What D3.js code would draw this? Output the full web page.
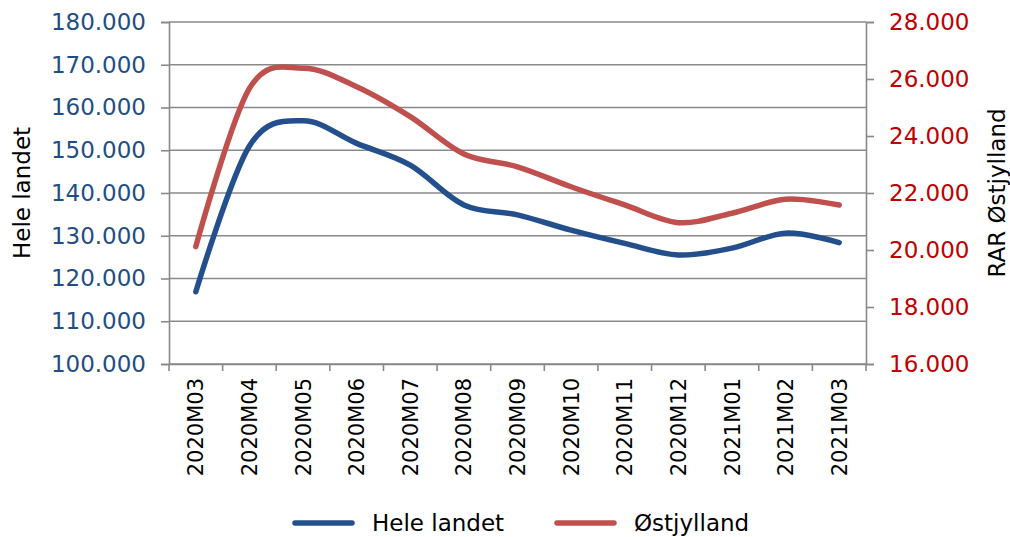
<!DOCTYPE html>
<html>
<head>
<meta charset="utf-8">
<script src="https://cdn.jsdelivr.net/npm/d3@7"></script>
<style>
  body { margin: 0; background: #fff; }
  text { font-family: "DejaVu Sans", Verdana, sans-serif; }
</style>
</head>
<body>
<div id="chart"></div>
<script>
// months on the x axis
var months = ["2020M03", "2020M04", "2020M05", "2020M06", "2020M07", "2020M08", "2020M09",
              "2020M10", "2020M11", "2020M12", "2021M01", "2021M02", "2021M03"];

// left axis series
var heleLandet = [116900, 151000, 156900, 151600, 146500, 137200, 134900,
                  131300, 128200, 125500, 127100, 130600, 128400];

// right axis series
var ostjylland = [20120, 25670, 26380, 25730, 24680, 23370, 22920,
                  22220, 21580, 20960, 21290, 21780, 21580];

var leftTicks = [100000, 110000, 120000, 130000, 140000, 150000, 160000, 170000, 180000];
var rightTicks = [16000, 18000, 20000, 22000, 24000, 26000, 28000];

var width = 1010, height = 537;
var plotLeft = 169, plotRight = 866, plotTop = 22, plotBottom = 364;

var blue = "#23508c", red = "#c0504d", gridColor = "#898989";

var dk = d3.formatLocale({decimal: ",", thousands: ".", grouping: [3], currency: ["", " kr."]});
var fmt = dk.format(",d");

var svg = d3.select("#chart").append("svg")
    .attr("width", width)
    .attr("height", height);

var x = d3.scaleBand().domain(months).range([plotLeft, plotRight]);
var yL = d3.scaleLinear().domain([100000, 180000]).range([plotBottom, plotTop]);
var yR = d3.scaleLinear().domain([16000, 28000]).range([plotBottom, plotTop]);

// gridlines
svg.append("g").selectAll("line")
  .data(leftTicks)
  .enter().append("line")
    .attr("x1", plotLeft).attr("x2", plotRight)
    .attr("y1", function(d) { return yL(d); })
    .attr("y2", function(d) { return yL(d); })
    .attr("stroke", gridColor)
    .attr("stroke-width", 1.6);

// left axis
var gL = svg.append("g")
    .attr("transform", "translate(" + plotLeft + ",0)")
    .call(d3.axisLeft(yL).tickValues(leftTicks).tickFormat(fmt).tickSize(8).tickPadding(15));
gL.select(".domain").attr("stroke", gridColor).attr("stroke-width", 1.6);
gL.selectAll(".tick line").attr("stroke", gridColor).attr("stroke-width", 1.6);
gL.selectAll("text").attr("fill", "#1f4e86").style("font-size", "23px");

// right axis
var gR = svg.append("g")
    .attr("transform", "translate(" + plotRight + ",0)")
    .call(d3.axisRight(yR).tickValues(rightTicks).tickFormat(fmt).tickSize(8).tickPadding(15));
gR.select(".domain").attr("stroke", gridColor).attr("stroke-width", 1.6);
gR.selectAll(".tick line").attr("stroke", gridColor).attr("stroke-width", 1.6);
gR.selectAll("text").attr("fill", "#c00000").style("font-size", "23px");

// bottom axis: labels at band centres, ticks at band edges
var gX = svg.append("g")
    .attr("transform", "translate(0," + plotBottom + ")")
    .call(d3.axisBottom(x).tickSize(0));
gX.select(".domain").attr("stroke", gridColor).attr("stroke-width", 1.6);
gX.selectAll("text")
    .attr("transform", "rotate(-90)")
    .attr("x", -14)
    .attr("y", 0)
    .attr("dy", "0.36em")
    .style("text-anchor", "end")
    .style("font-size", "21px")
    .attr("fill", "#000");

var edges = months.map(function(m) { return x(m); }).concat([x.range()[1]]);
gX.append("g").selectAll("line")
  .data(edges)
  .enter().append("line")
    .attr("x1", function(d) { return d; })
    .attr("x2", function(d) { return d; })
    .attr("y1", 0).attr("y2", 7)
    .attr("stroke", gridColor)
    .attr("stroke-width", 1.6);

// axis titles
svg.append("text")
    .attr("transform", "translate(22," + (plotTop + plotBottom) / 2 + ")rotate(-90)")
    .attr("text-anchor", "middle")
    .attr("dy", "0.35em")
    .style("font-size", "23px")
    .text("Hele landet");

svg.append("text")
    .attr("transform", "translate(997," + (plotTop + plotBottom) / 2 + ")rotate(-90)")
    .attr("text-anchor", "middle")
    .attr("dy", "0.35em")
    .style("font-size", "23px")
    .text("RAR Østjylland");

// lines
var cx = function(d, i) { return x(months[i]) + x.bandwidth() / 2; };

var lineL = d3.line()
    .x(cx)
    .y(function(d) { return yL(d); })
    .curve(d3.curveCardinal.tension(0));

var lineR = d3.line()
    .x(cx)
    .y(function(d) { return yR(d); })
    .curve(d3.curveCardinal.tension(0));

svg.append("path")
    .datum(heleLandet)
    .attr("d", lineL)
    .attr("fill", "none")
    .attr("stroke", blue)
    .attr("stroke-width", 5.5)
    .attr("stroke-linecap", "round")
    .attr("stroke-linejoin", "round");

svg.append("path")
    .datum(ostjylland)
    .attr("d", lineR)
    .attr("fill", "none")
    .attr("stroke", red)
    .attr("stroke-width", 5.5)
    .attr("stroke-linecap", "round")
    .attr("stroke-linejoin", "round");

// legend
var legend = [
  {name: "Hele landet", color: blue, x: 295},
  {name: "Østjylland", color: red, x: 557}
];
var lg = svg.append("g").selectAll("g")
  .data(legend)
  .enter().append("g")
    .attr("transform", function(d) { return "translate(" + d.x + ",523)"; });
lg.append("line")
    .attr("x1", 0).attr("x2", 57)
    .attr("stroke", function(d) { return d.color; })
    .attr("stroke-width", 5.5)
    .attr("stroke-linecap", "round");
lg.append("text")
    .attr("x", 77)
    .attr("dy", "0.36em")
    .style("font-size", "23px")
    .text(function(d) { return d.name; });
</script>
</body>
</html>
